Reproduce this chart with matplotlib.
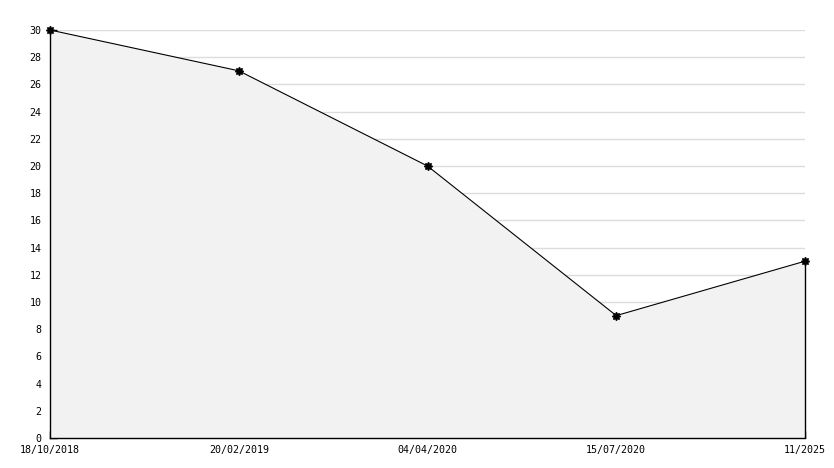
"""
Line chart with shaded area, recreated from a reference image
"""
import matplotlib
matplotlib.use("Agg")
import matplotlib.pyplot as plt
from matplotlib.ticker import MultipleLocator

labels = ["18/10/2018", "20/02/2019", "04/04/2020", "15/07/2020", "11/2025"]
values = [30, 27, 20, 9, 13]

positions = list(range(len(labels)))

plt.rcParams["font.family"] = "DejaVu Sans Mono"

fig = plt.figure(figsize=(8.34, 4.68), dpi=100)
ax = fig.add_axes([50 / 834, 30 / 468, 755 / 834, 408 / 468])

ax.set_xlim(0, len(labels) - 1)
ax.set_ylim(0, 30)
ax.set_xticks(positions)
ax.set_xticklabels(labels)
ax.yaxis.set_major_locator(MultipleLocator(2))
ax.yaxis.set_minor_locator(MultipleLocator(1))

# horizontal grid, kept under the shaded area
for yv in ax.get_yticks():
    if 0 < yv <= 30:
        ax.axhline(yv, color="#dcdcdc", linewidth=1, zorder=1)

ax.fill_between(positions, values, 0, color="#f2f2f2", linewidth=0, zorder=2)
ax.vlines(positions[-1], 0, values[-1], color="black", linewidth=1,
          zorder=3, clip_on=False)
ax.plot(positions, values, color="black", linewidth=0.8, zorder=4,
        marker=(8, 1, 0), markersize=6, clip_on=False)

ax.tick_params(axis="both", direction="in", labelsize=7.2, color="black",
               width=1)
ax.tick_params(axis="y", which="major", length=5, pad=6)
ax.tick_params(axis="y", which="minor", length=3, direction="in")
ax.tick_params(axis="x", length=5, pad=5)

for side in ("top", "right"):
    ax.spines[side].set_visible(False)
for side in ("left", "bottom"):
    ax.spines[side].set_linewidth(1)
    ax.spines[side].set_zorder(5)

fig.savefig("out.png", dpi=100)
